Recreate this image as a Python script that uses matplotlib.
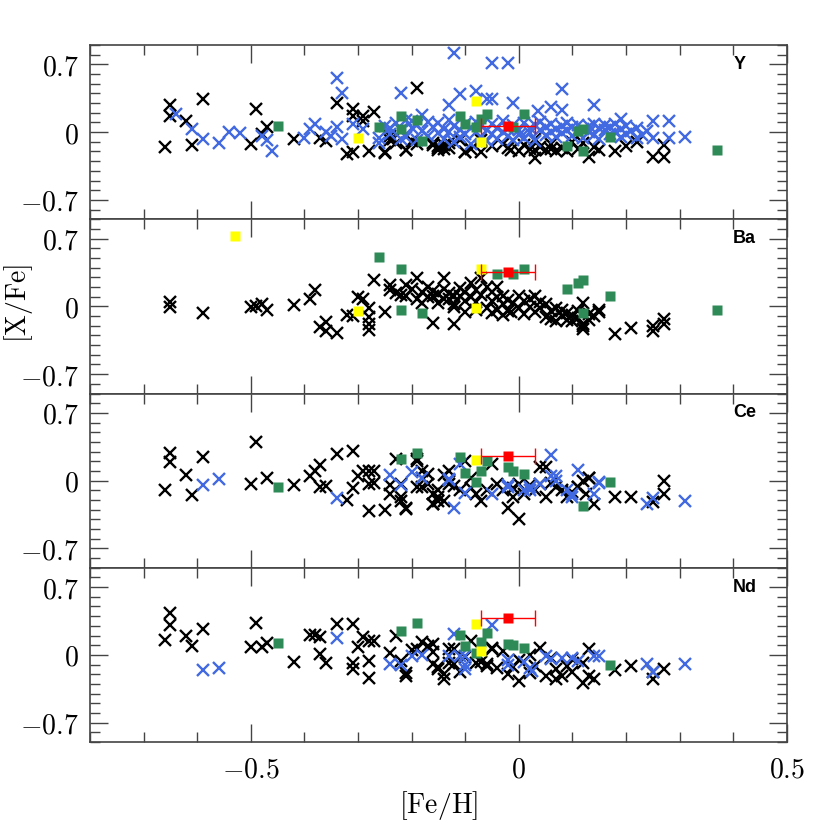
import numpy as np
import matplotlib
matplotlib.use("Agg")
import matplotlib.pyplot as plt
from matplotlib.ticker import MultipleLocator

plt.rcParams['mathtext.fontset'] = 'cm'

# [Fe/H], [X/Fe] pairs
y_black = [(-0.66, -0.15), (-0.65, 0.28), (-0.65, 0.17), (-0.62, 0.11), (-0.61, -0.13), (-0.59, 0.34),
           (-0.50, -0.12), (-0.49, 0.24), (-0.48, -0.02), (-0.47, 0.05), (-0.42, -0.07), (-0.37, -0.06),
           (-0.36, -0.09), (-0.34, 0.30), (-0.32, -0.23), (-0.31, -0.21), (-0.31, 0.24), (-0.31, 0.17),
           (-0.29, 0.17), (-0.29, 0.11), (-0.27, 0.21), (-0.28, -0.20), (-0.25, -0.22), (-0.24, -0.04),
           (-0.235, -0.07), (-0.21, -0.18), (-0.19, 0.46), (-0.19, -0.12), (-0.25, -0.21), (-0.24, -0.08),
           (-0.23, -0.11), (-0.21, -0.18), (-0.20, -0.09), (-0.16, -0.13), (-0.15, -0.14), (-0.14, -0.13),
           (-0.16, -0.11), (-0.15, -0.16), (-0.13, -0.11), (-0.13, -0.16), (-0.10, -0.21), (-0.11, -0.08),
           (-0.07, -0.21), (-0.07, -0.08), (-0.05, -0.14), (-0.03, -0.12), (-0.015, -0.18), (0.00, -0.20),
           (0.01, -0.13), (0.03, -0.07), (0.03, -0.27), (0.04, -0.15), (0.05, -0.18), (0.06, -0.12),
           (0.07, -0.19), (0.08, -0.16), (0.10, -0.10), (0.12, -0.11), (0.13, -0.26), (0.14, -0.15),
           (0.15, -0.18), (0.18, -0.20), (0.20, -0.14), (0.22, -0.10), (0.25, -0.26), (0.27, -0.26),
           (0.27, -0.13), (-0.10, -0.21), (-0.09, -0.17), (-0.02, -0.16), (0.09, -0.20),
           (-0.15, -0.18), (-0.14, -0.17), (0.02, -0.17), (0.03, -0.18), (0.06, -0.17), (0.11, -0.17)]
y_blue = [(-0.64, 0.19), (-0.61, 0.03), (-0.59, -0.07), (-0.56, -0.11), (-0.54, 0.00), (-0.52, -0.01),
          (-0.48, -0.04), (-0.47, -0.08), (-0.46, -0.20), (-0.40, -0.06), (-0.39, 0.03), (-0.38, 0.08),
          (-0.36, 0.00), (-0.35, -0.04), (-0.34, 0.05), (-0.34, 0.56), (-0.33, 0.40), (-0.33, -0.07),
          (-0.31, 0.08), (-0.29, 0.03), (-0.26, -0.06), (-0.26, -0.11), (-0.24, 0.04), (-0.22, 0.40),
          (-0.22, -0.07), (-0.20, 0.11), (-0.18, 0.18), (-0.13, 0.28), (-0.11, 0.39), (-0.12, 0.82),
          (-0.08, 0.42), (-0.06, 0.34), (-0.05, 0.34), (-0.05, 0.71), (-0.02, 0.71), (-0.01, 0.30),
          (0.035, 0.22), (0.06, 0.26), (0.08, 0.23), (0.08, 0.45), (0.14, 0.28), (0.19, 0.14),
          (0.25, 0.11), (0.28, 0.11), (0.25, -0.06), (0.28, -0.06), (0.31, -0.05),
          (-0.25, 0.06), (-0.24, -0.02), (-0.23, 0.09), (-0.22, 0.02), (-0.21, -0.05), (-0.21, 0.12),
          (-0.20, 0.04), (-0.19, -0.08), (-0.19, 0.07), (-0.18, 0.01), (-0.17, 0.10), (-0.17, -0.04),
          (-0.16, 0.05), (-0.15, -0.01), (-0.15, 0.09), (-0.14, 0.03), (-0.14, -0.07), (-0.13, 0.12),
          (-0.13, 0.00), (-0.12, 0.06), (-0.12, -0.10), (-0.11, 0.02), (-0.11, -0.05), (-0.10, 0.08),
          (-0.10, -0.02), (-0.09, 0.04), (-0.09, -0.12), (-0.08, 0.10), (-0.08, 0.00), (-0.07, -0.05),
          (-0.07, 0.06), (-0.06, 0.02), (-0.06, -0.09), (-0.05, 0.08), (-0.05, -0.02), (-0.04, 0.04),
          (-0.04, -0.07), (-0.03, 0.11), (-0.03, 0.00), (-0.02, -0.04), (-0.02, 0.03), (-0.01, 0.07),
          (-0.01, -0.08), (0.00, 0.02), (0.00, -0.03), (0.01, 0.09), (0.01, -0.06), (0.02, 0.04),
          (0.02, -0.01), (0.03, 0.07), (0.03, -0.09), (0.04, 0.02), (0.04, 0.10), (0.05, -0.03),
          (0.05, 0.05), (0.06, 0.00), (0.06, 0.08), (0.07, -0.05), (0.07, 0.03), (0.08, 0.06),
          (0.08, -0.01), (0.09, 0.09), (0.09, 0.02), (0.10, -0.04), (0.10, 0.05), (0.11, 0.07),
          (0.11, 0.00), (0.12, 0.03), (0.12, -0.06), (0.13, 0.06), (0.13, 0.00), (0.14, 0.08),
          (0.14, -0.03), (0.15, 0.04), (0.15, -0.07), (0.16, 0.02), (0.16, 0.07), (0.17, -0.02),
          (0.17, 0.05), (0.18, 0.00), (0.18, 0.08), (0.19, -0.05), (0.19, 0.03), (0.20, 0.06),
          (0.20, -0.02), (0.21, 0.01), (0.22, -0.06), (0.22, 0.04), (0.23, -0.03), (0.24, 0.01)]
y_green = [(0.37, -0.18), (0.17, -0.05), (0.12, -0.20), (0.11, 0.01), (0.12, 0.03), (0.09, -0.14),
           (0.01, 0.19), (-0.01, 0.05), (-0.06, 0.19), (-0.07, 0.14), (-0.08, 0.05), (-0.10, 0.08),
           (-0.11, 0.17), (-0.19, 0.13), (-0.18, -0.09), (-0.22, 0.17), (-0.22, 0.03), (-0.26, 0.05),
           (-0.45, 0.06)]
y_yellow = [(-0.30, -0.06), (-0.08, 0.32), (-0.07, -0.10)]

ba_black = [(-0.65, 0.05), (-0.65, -0.01), (-0.59, -0.07), (-0.50, -0.01), (-0.49, 0.00), (-0.48, 0.02),
            (-0.47, -0.04), (-0.42, 0.01), (-0.39, 0.08), (-0.38, 0.17), (-0.37, -0.21), (-0.36, -0.16),
            (-0.36, -0.25), (-0.34, -0.27), (-0.32, -0.09), (-0.31, -0.10), (-0.30, 0.10), (-0.29, 0.08),
            (-0.28, -0.02), (-0.28, -0.11), (-0.28, -0.18), (-0.28, -0.24), (-0.27, 0.27), (-0.25, -0.06),
            (-0.16, -0.17), (-0.12, -0.18), (0.18, -0.29), (0.21, -0.22), (0.25, -0.20), (0.25, -0.25),
            (0.27, -0.13), (0.27, -0.18), (0.15, -0.06), (0.12, -0.18), (0.12, -0.23), (0.12, 0.03),
            (-0.24, 0.22), (-0.24, 0.17), (-0.23, 0.14), (-0.22, 0.12), (-0.21, 0.22), (-0.21, 0.11),
            (-0.20, 0.18), (-0.19, 0.29), (-0.19, 0.08), (-0.18, 0.15), (-0.18, 0.04), (-0.17, 0.20),
            (-0.17, 0.10), (-0.16, 0.11), (-0.16, 0.16), (-0.15, 0.04), (-0.15, 0.13), (-0.14, 0.29),
            (-0.14, 0.18), (-0.14, 0.08), (-0.13, 0.08), (-0.13, 0.14), (-0.12, 0.11), (-0.12, 0.02),
            (-0.11, 0.11), (-0.11, 0.19), (-0.10, 0.06), (-0.10, 0.15), (-0.09, 0.24), (-0.09, 0.10),
            (-0.08, 0.17), (-0.08, 0.05), (-0.07, 0.29), (-0.07, 0.12), (-0.06, 0.20), (-0.06, -0.02),
            (-0.05, 0.15), (-0.05, 0.06), (-0.04, 0.20), (-0.04, 0.10), (-0.04, -0.04), (-0.03, 0.11),
            (-0.03, 0.02), (-0.02, 0.07), (-0.02, -0.05), (-0.015, -0.06), (-0.01, 0.04), (0.00, 0.11),
            (0.00, -0.02), (0.01, 0.06), (0.01, -0.08), (0.02, -0.01), (0.02, 0.08), (0.03, 0.11),
            (0.03, -0.06), (0.04, -0.02), (0.04, 0.05), (0.05, -0.11), (0.05, 0.02), (0.06, -0.05),
            (0.06, -0.13), (0.07, -0.15), (0.07, -0.02), (0.08, -0.04), (0.08, -0.10), (0.09, -0.14),
            (0.09, -0.07), (0.10, -0.09), (0.10, -0.15), (0.11, -0.05), (0.11, -0.12), (0.12, -0.20),
            (0.13, -0.14), (0.13, -0.08), (0.14, -0.10), (0.15, -0.04), (-0.10, -0.06), (-0.08, -0.04),
            (-0.05, -0.07), (-0.03, -0.09), (-0.12, -0.01)]
ba_green = [(0.37, -0.04), (0.17, 0.11), (0.12, 0.27), (0.11, 0.24), (0.09, 0.18), (0.12, -0.07),
            (0.01, 0.39), (-0.01, 0.33), (-0.04, 0.33), (-0.22, 0.39), (-0.18, -0.07), (-0.26, 0.51),
            (-0.22, -0.04)]
ba_yellow = [(-0.53, 0.73), (-0.30, -0.05), (-0.08, -0.02), (-0.07, 0.39)]

ce_black = [(-0.66, -0.10), (-0.65, 0.29), (-0.65, 0.19), (-0.62, 0.06), (-0.61, -0.15), (-0.59, 0.24),
            (-0.50, -0.03), (-0.49, 0.40), (-0.47, 0.03), (-0.42, -0.05), (-0.39, 0.05), (-0.38, 0.10),
            (-0.37, 0.16), (-0.37, -0.07), (-0.36, -0.06), (-0.34, 0.27), (-0.32, -0.20), (-0.31, 0.31),
            (-0.31, -0.08), (-0.30, 0.05), (-0.29, 0.10), (-0.28, 0.10), (-0.27, 0.10), (-0.28, -0.03),
            (-0.27, -0.02), (-0.28, -0.31), (-0.25, -0.30), (-0.24, -0.05), (-0.24, -0.14), (-0.23, 0.22),
            (-0.22, -0.17), (-0.22, -0.21), (-0.21, -0.28), (-0.19, 0.22), (-0.18, 0.10), (-0.18, -0.07),
            (-0.17, -0.03), (-0.16, -0.14), (-0.16, -0.24), (-0.15, -0.17), (-0.14, 0.06), (-0.13, 0.01),
            (-0.13, 0.10), (-0.14, -0.21), (-0.22, -0.03), (-0.19, -0.07), (-0.18, 0.03), (-0.17, 0.07),
            (-0.15, -0.10), (-0.15, -0.21), (-0.13, -0.03), (-0.11, -0.10), (-0.09, 0.03), (-0.08, -0.14),
            (-0.07, -0.21), (-0.06, -0.10), (-0.05, 0.17), (-0.04, -0.03), (-0.03, -0.10), (-0.02, -0.28),
            (0.00, -0.40), (-0.01, -0.17), (0.00, -0.03), (0.01, -0.14), (0.03, -0.10), (0.04, -0.03),
            (0.05, 0.14), (0.05, -0.17), (0.07, -0.07), (0.08, -0.10), (0.09, -0.17), (0.11, -0.07),
            (0.12, 0.00), (0.125, -0.14), (0.13, 0.03), (0.14, -0.24), (0.18, -0.17), (0.21, -0.17),
            (0.27, 0.00), (0.27, -0.14), (0.25, -0.22), (-0.10, 0.20), (-0.19, 0.20), (-0.21, -0.29),
            (-0.16, -0.24), (0.04, 0.14), (0.13, 0.03), (0.11, -0.07), (-0.12, -0.06), (-0.09, -0.08),
            (0.02, -0.05), (0.06, -0.02), (0.10, -0.12), (-0.01, -0.08)]
ce_blue = [(-0.59, -0.05), (-0.56, 0.02), (-0.34, -0.18), (-0.24, 0.06), (-0.22, -0.05), (-0.20, 0.09),
           (-0.18, 0.03), (-0.13, 0.01), (-0.12, -0.28), (-0.11, 0.17), (-0.10, -0.13), (-0.05, -0.14),
           (0.06, 0.26), (0.11, 0.11), (0.15, -0.01), (0.14, -0.14), (0.10, -0.14), (0.09, -0.10),
           (0.06, 0.05), (0.07, 0.05), (0.02, -0.07), (0.02, -0.10), (-0.02, -0.07), (-0.02, -0.04),
           (-0.13, 0.02), (0.24, -0.24), (0.25, -0.18), (0.31, -0.21), (0.01, -0.10), (0.04, -0.03),
           (0.07, 0.00), (0.10, -0.17), (0.15, -0.02)]
ce_green = [(0.17, -0.01), (0.12, -0.26), (0.01, 0.07), (-0.01, 0.10), (-0.02, 0.14), (-0.06, 0.20),
            (-0.07, 0.10), (-0.08, -0.01), (-0.10, 0.08), (-0.11, 0.24), (-0.19, 0.29), (-0.22, 0.22),
            (-0.45, -0.07)]
ce_yellow = [(-0.08, 0.21)]

nd_black = [(-0.66, 0.15), (-0.65, 0.43), (-0.65, 0.31), (-0.62, 0.20), (-0.61, 0.09), (-0.59, 0.27),
            (-0.50, 0.08), (-0.49, 0.33), (-0.48, 0.08), (-0.47, 0.12), (-0.42, -0.07), (-0.39, 0.21),
            (-0.38, 0.21), (-0.37, 0.18), (-0.37, 0.01), (-0.36, -0.08), (-0.34, 0.32), (-0.31, 0.32),
            (-0.31, -0.08), (-0.31, -0.15), (-0.30, 0.08), (-0.29, 0.18), (-0.28, 0.14), (-0.27, 0.14),
            (-0.28, -0.06), (-0.28, -0.24), (-0.23, 0.20), (-0.24, 0.02), (-0.22, -0.06), (-0.21, -0.19),
            (-0.20, 0.05), (-0.18, 0.13), (-0.16, -0.09), (-0.15, -0.15), (-0.14, -0.20), (-0.16, 0.03),
            (-0.13, 0.06), (-0.12, -0.09), (-0.09, 0.14), (-0.07, -0.07), (-0.06, -0.09), (-0.05, 0.07),
            (-0.21, -0.22), (-0.19, 0.06), (-0.17, 0.09), (-0.16, 0.11), (-0.14, -0.25), (-0.15, -0.12),
            (-0.13, -0.08), (-0.12, 0.06), (-0.08, -0.08), (-0.06, -0.11), (-0.05, 0.06), (-0.03, 0.04),
            (-0.02, -0.20), (0.00, -0.27), (0.02, -0.19), (0.03, -0.11), (0.04, 0.07), (0.05, -0.22),
            (0.07, -0.15), (0.08, -0.22), (0.09, -0.11), (0.10, -0.18), (0.12, -0.08), (0.12, -0.29),
            (0.13, 0.06), (0.13, -0.22), (0.14, -0.25), (0.18, -0.16), (0.21, -0.11), (0.25, -0.25),
            (0.25, -0.18), (0.27, -0.15), (0.00, -0.05), (0.02, 0.00), (-0.10, -0.02), (0.06, -0.03),
            (-0.04, -0.14), (0.10, -0.04), (-0.11, -0.18), (0.07, -0.25), (-0.01, -0.12)]
nd_blue = [(-0.59, -0.16), (-0.56, -0.14), (-0.34, 0.17), (-0.24, -0.09), (-0.22, -0.10), (-0.20, -0.01),
           (-0.18, 0.00), (-0.13, -0.01), (-0.11, -0.01), (-0.10, -0.15), (-0.12, 0.22), (-0.05, 0.31),
           (0.31, -0.09), (0.24, -0.09), (0.25, -0.18), (0.15, -0.01), (0.14, -0.01), (0.11, -0.06),
           (0.10, -0.03), (0.08, -0.03), (0.06, -0.04), (0.05, -0.01), (0.02, -0.14), (0.025, -0.17),
           (0.01, -0.07), (-0.02, -0.05), (-0.02, -0.10), (-0.10, -0.10), (-0.10, -0.01)]
nd_green = [(0.17, -0.10), (0.01, 0.07), (-0.01, 0.10), (-0.02, 0.11), (-0.06, 0.23), (-0.07, 0.13),
            (-0.08, 0.02), (-0.10, 0.09), (-0.11, 0.21), (-0.19, 0.33), (-0.22, 0.25), (-0.45, 0.12)]
nd_yellow = [(-0.08, 0.32), (-0.07, 0.04)]

# red point with error bar in [Fe/H]
red_feh = [-0.02, -0.02, -0.02, -0.02]
red_xfe = [0.06, 0.35, 0.25, 0.38]
red_err = [0.05, 0.05, 0.05, 0.05]

elements = ['Y', 'Ba', 'Ce', 'Nd']
blacks = [y_black, ba_black, ce_black, nd_black]
blues = [y_blue, [], ce_blue, nd_blue]
greens = [y_green, ba_green, ce_green, nd_green]
yellows = [y_yellow, ba_yellow, ce_yellow, nd_yellow]

fig, axes = plt.subplots(4, 1, figsize=(8.3, 8.3), dpi=100, sharex=True)
fig.subplots_adjust(left=0.1084, right=0.948, top=0.9458, bottom=0.106, hspace=0)

for i, ax in enumerate(axes):
    if blacks[i]:
        bx, by = zip(*blacks[i])
        ax.plot(bx, by, 'x', color='black', ms=8, mew=1.7, ls='none')
    if blues[i]:
        bx, by = zip(*blues[i])
        ax.plot(bx, by, 'x', color='royalblue', ms=8, mew=1.7, ls='none')
    gx, gy = zip(*greens[i])
    ax.plot(gx, gy, 's', color='seagreen', ms=7, mec='none', ls='none')
    yx, yy = zip(*yellows[i])
    ax.plot(yx, yy, 's', color='yellow', ms=7, mec='none', ls='none')
    ax.errorbar(red_feh[i], red_xfe[i], xerr=red_err[i], fmt='s', color='red', ms=7,
                mec='none', elinewidth=1, capsize=6, capthick=1)

    ax.set_xlim(-0.8, 0.5)
    ax.set_ylim(-0.9, 0.9)
    ax.set_xticks([-0.5, 0, 0.5])
    ax.xaxis.set_minor_locator(MultipleLocator(0.1))
    ax.set_yticks([-0.7, 0, 0.7])
    ax.set_yticklabels([r'$-0.7$', r'$0$', r'$0.7$'])
    ax.yaxis.set_minor_locator(MultipleLocator(0.1))
    ax.tick_params(which='both', direction='in', top=True, right=True, color='#444444')
    ax.tick_params(which='major', length=13, width=1.0, labelsize=20, pad=8)
    ax.tick_params(which='minor', length=7, width=1.0)
    for s in ax.spines.values():
        s.set_color('#444444')
        s.set_linewidth(1.2)
    ax.text(0.40, 0.7, elements[i], fontsize=13, fontweight='bold', ha='left', va='center',
            family='Liberation Sans')

axes[-1].set_xticklabels([r'$-0.5$', r'$0$', r'$0.5$'])
axes[-1].tick_params(axis='x', pad=10)
axes[-1].set_xlabel(r'$[\mathrm{Fe/H}]$', fontsize=20, labelpad=4)
fig.text(0.022, 1 - 303 / 830, r'$[\mathrm{X/Fe}]$', fontsize=20, rotation=90, ha='center', va='center')

fig.savefig('out.png', dpi=100)
